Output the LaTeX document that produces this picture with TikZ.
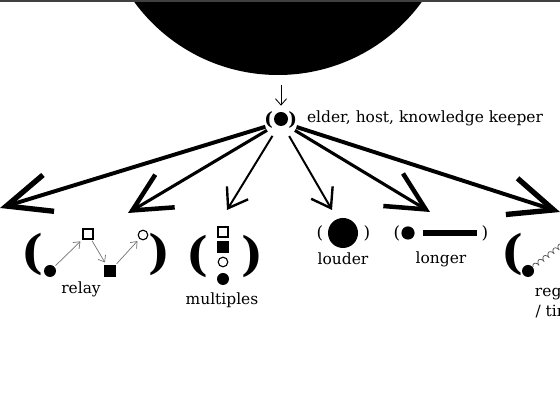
\documentclass[tikz,border=0pt]{standalone}
\usepackage{fontspec}
\setmainfont{DejaVu Serif}
\usetikzlibrary{arrows.meta,positioning,decorations.pathmorphing}

\begin{document}
\begin{tikzpicture}[
  dot/.style={circle,fill=black,inner sep=0pt,minimum size=0.3cm},
  ring/.style={circle,draw=black,line width=0.8pt,inner sep=0pt,minimum size=0.24cm},
  tile/.style={rectangle,draw=black,line width=0.8pt,inner sep=0pt,minimum size=0.25cm},
  solidtile/.style={tile,fill=black},
  bigparen/.style={inner sep=0pt,font=\fontsize{33}{33}\selectfont\bfseries},
  paren/.style={inner sep=0pt,font=\fontsize{12}{12}\selectfont},
  lbl/.style={inner sep=0pt,align=center,font=\fontsize{11}{14}\selectfont},
  heavy/.style={line width=2.8pt,-{Straight Barb[length=1.1cm,width=0.95cm,line width=3.8pt]}},
  medium/.style={line width=2.2pt,-{Straight Barb[length=0.95cm,width=0.95cm,line width=3.2pt]}},
  light/.style={line width=1.4pt,-{Straight Barb[length=0.45cm,width=0.62cm,line width=1.7pt]}},
  hop/.style={draw=black!55,line width=0.5pt,-{Straight Barb[length=1.4mm,width=2.2mm]},shorten <=1pt,shorten >=2pt},
  drop/.style={line width=0.6pt,-{Straight Barb[length=1.6mm,width=2.8mm]}}
]
\useasboundingbox (0,0) rectangle (14,10);
\clip (0,0) rectangle (14,10);

% the source above
\node[circle,fill=black,inner sep=0pt,minimum size=8.9cm] (sun) at (6.95,12.575) {};
\draw[line width=1.4pt,black!75] (0,9.97) -- (14,9.97);

% keeper
\node[dot,minimum size=0.35cm] (keeper) at (7.025,7.025) {};
\node[paren,font=\fontsize{13}{13}\selectfont\bfseries] (kl) at (6.72,7.0) {(};
\node[paren,font=\fontsize{13}{13}\selectfont\bfseries] (kr) at (7.32,7.0) {)};
\node[lbl,anchor=west] (role) at (7.67,7.05) {elder, host, knowledge keeper};
\coordinate (fall) at (7.025,7.875);
\draw[drop,shorten >=0.15cm] (fall) -- (keeper);
\node[circle,inner sep=0pt,minimum size=0.8cm] (hub) at (7.025,6.95) {};

% fan out
\coordinate (tip1) at (0,4.8);
\coordinate (tip2) at (3.2,4.675);
\coordinate (tip3) at (5.675,4.75);
\coordinate (tip4) at (8.3,4.75);
\coordinate (tip5) at (10.75,4.7);
\coordinate (tip6) at (14,4.7);
\draw[heavy] (hub) -- (tip1);
\draw[medium] (hub) -- (tip2);
\draw[light] (hub) -- (tip3);
\draw[light] (hub) -- (tip4);
\draw[medium] (hub) -- (tip5);
\draw[heavy] (hub) -- (tip6);

% relay
\node[bigparen] (rl) at (0.8,3.65) {(};
\node[dot] (r1) at (1.25,3.225) {};
\node[tile] (r2) at (2.2,4.15) {};
\node[solidtile,minimum size=0.28cm] (r3) at (2.75,3.225) {};
\node[ring] (r4) at (3.575,4.125) {};
\node[bigparen] (rr) at (3.975,3.65) {)};
\node[lbl] (relay) at (2.025,2.775) {relay};
\draw[hop] (r1) -- (r2);
\draw[hop] (r2) -- (r3);
\draw[hop] (r3) -- (r4);

% multiples
\node[bigparen] (ml) at (4.925,3.6) {(};
\node[tile] (m1) at (5.575,4.2) {};
\node[solidtile] (m2) at (5.575,3.825) {};
\node[ring] (m3) at (5.575,3.45) {};
\node[dot] (m4) at (5.575,3.025) {};
\node[bigparen] (mr) at (6.3,3.6) {)};
\node[lbl] (multiples) at (5.55,2.5) {multiples};

% louder
\node[paren] (ll) at (8.0,4.175) {(};
\node[dot,minimum size=0.75cm] (big) at (8.575,4.175) {};
\node[paren] (lr) at (9.175,4.175) {)};
\node[lbl] (louder) at (8.575,3.525) {louder};

% longer
\node[paren] (gl) at (9.925,4.175) {(};
\node[dot,minimum size=0.33cm] (g1) at (10.2,4.175) {};
\node[rectangle,fill=black,inner sep=0pt,minimum width=1.35cm,minimum height=0.17cm] (bar) at (11.25,4.175) {};
\node[paren] (gr) at (12.125,4.175) {)};
\node[lbl] (longer) at (11.025,3.525) {longer};

% register, runs off the edge
\node[bigparen] (tl) at (12.8,3.65) {(};
\node[dot] (t1) at (13.2,3.225) {};
\coordinate (tend) at (15,4.6);
\draw[black!70,line width=0.5pt,decorate,decoration={coil,amplitude=1.7pt,segment length=4.5pt}] (t1) -- (tend);
\node[lbl] (register) at (14.15,2.43) {register\\/ timing};
\end{tikzpicture}
\end{document}
